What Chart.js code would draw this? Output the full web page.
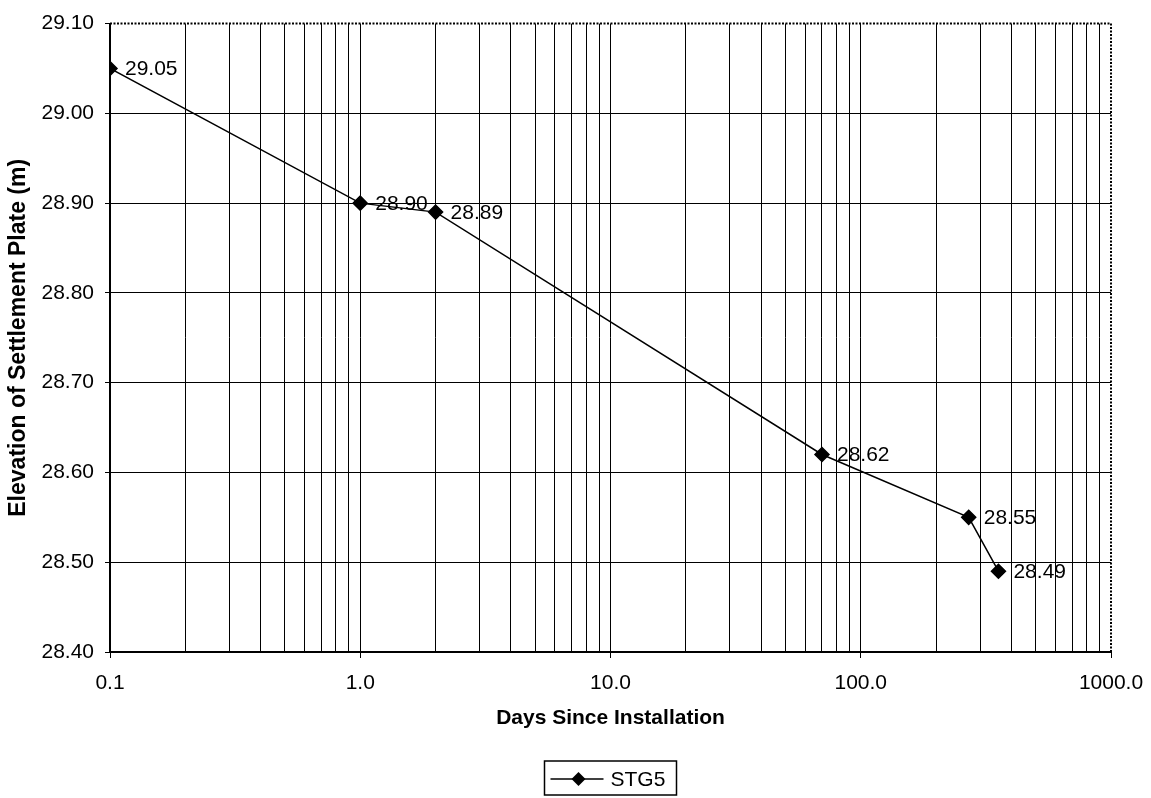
<!DOCTYPE html>
<html>
<head>
<meta charset="utf-8">
<title>STG5 settlement plate</title>
<script src="https://cdn.jsdelivr.net/npm/chart.js@4.4.1/dist/chart.umd.min.js"></script>
<style>
    html, body { margin: 0; padding: 0; background: #fff; }
    #wrap { width: 1151px; height: 798px; position: relative; }
</style>
</head>
<body>
<div id="wrap"><canvas id="chart"></canvas></div>
<script>
// Relevés de la plaque de tassement STG5
const seriesName = 'STG5';
const days = [0.1, 1.0, 2.0, 70, 270, 355];
const elevations = [29.05, 28.90, 28.89, 28.62, 28.55, 28.49];

// Graduations des axes
const xDecades = [0.1, 1, 10, 100, 1000];
const xTickLabels = ['0.1', '1.0', '10.0', '100.0', '1000.0'];
const yTickValues = [28.40, 28.50, 28.60, 28.70, 28.80, 28.90, 29.00, 29.10];
const yTickLabels = ['28.40', '28.50', '28.60', '28.70', '28.80', '28.90', '29.00', '29.10'];

const FONT = '"Liberation Sans", Arial, sans-serif';

// Etiquettes de valeur à droite de chaque point + cadre pointillé + légende encadrée
const extras = {
    id: 'extras',
    afterDatasetsDraw(chart) {
        const ctx = chart.ctx;
        const meta = chart.getDatasetMeta(0);
        ctx.save();
        ctx.fillStyle = '#000';
        ctx.font = '21px ' + FONT;
        ctx.textAlign = 'left';
        ctx.textBaseline = 'middle';
        meta.data.forEach((pt, i) => {
            ctx.fillText(elevations[i].toFixed(2), pt.x + 15, pt.y + 1);
        });
        ctx.restore();
    },
    afterDraw(chart) {
        const ctx = chart.ctx;
        const a = chart.chartArea;
        ctx.save();
        // bordure haute et droite de la zone de tracé
        ctx.strokeStyle = '#000';
        ctx.fillStyle = '#000';
        ctx.lineWidth = 2;
        ctx.setLineDash([2, 1.5]);
        ctx.beginPath();
        ctx.moveTo(a.left, a.top);
        ctx.lineTo(a.right, a.top);
        ctx.lineTo(a.right, a.bottom);
        ctx.stroke();
        ctx.setLineDash([]);

        // légende centrée sous l'axe
        const cx = (a.left + a.right) / 2;
        const bw = 132, bh = 34;
        const bx = cx - bw / 2, by = 761;
        ctx.lineWidth = 1.5;
        ctx.strokeRect(bx, by, bw, bh);
        const ly = by + bh / 2 + 1;
        ctx.beginPath();
        ctx.moveTo(bx + 6, ly);
        ctx.lineTo(bx + 59, ly);
        ctx.stroke();
        const dx = bx + 34;
        ctx.beginPath();
        ctx.moveTo(dx, ly - 7);
        ctx.lineTo(dx + 7, ly);
        ctx.lineTo(dx, ly + 7);
        ctx.lineTo(dx - 7, ly);
        ctx.closePath();
        ctx.fill();
        ctx.font = '21px ' + FONT;
        ctx.textBaseline = 'middle';
        ctx.fillText(seriesName, bx + 66, ly + 1);
        ctx.restore();
    }
};

new Chart(document.getElementById('chart'), {
    type: 'line',
    data: {
        datasets: [{
            label: seriesName,
            data: days.map((d, i) => ({ x: d, y: elevations[i] })),
            borderColor: '#000',
            borderWidth: 1.5,
            backgroundColor: '#000',
            pointStyle: 'rectRot',
            pointRadius: 7,
            pointHoverRadius: 7,
            pointBackgroundColor: '#000',
            pointBorderColor: '#000',
            tension: 0,
        }],
    },
    options: {
        responsive: true,
        maintainAspectRatio: false,
        animation: false,
        layout: { padding: { left: 0, right: 40, top: 18, bottom: 66 } },
        plugins: {
            legend: { display: false },
            tooltip: { enabled: false },
        },
        scales: {
            x: {
                type: 'logarithmic',
                min: 0.1,
                max: 1000,
                afterBuildTicks(scale) {
                    const ticks = [];
                    xDecades.forEach((d, k) => {
                        const last = k === xDecades.length - 1;
                        for (let m = 1; m <= (last ? 1 : 9); m++) {
                            ticks.push({ value: Number((d * m).toPrecision(6)), major: m === 1 });
                        }
                    });
                    scale.ticks = ticks;
                },
                afterFit(scale) {
                    scale.height = 80;
                    // les marges de la mise en page suffisent pour les libellés extrêmes
                    scale.paddingLeft = 0;
                    scale.paddingRight = 0;
                },
                ticks: {
                    autoSkip: false,
                    maxRotation: 0,
                    padding: 13,
                    color: '#000',
                    font: { family: FONT, size: 21 },
                    callback(value) {
                        const k = xDecades.indexOf(value);
                        return k >= 0 ? xTickLabels[k] : '';
                    },
                },
                grid: {
                    color: ctx => (ctx.tick && ctx.tick.value === 1000) ? 'rgba(0,0,0,0)' : '#000',
                    lineWidth: 1,
                    tickLength: 6,
                    tickColor: ctx => (ctx.tick && ctx.tick.major) ? '#000' : 'rgba(0,0,0,0)',
                },
                border: { color: '#000', width: 2 },
                title: {
                    display: true,
                    text: 'Days Since Installation',
                    color: '#000',
                    font: { family: FONT, size: 21, weight: 'bold' },
                    padding: { top: 4, bottom: 1 },
                },
            },
            y: {
                type: 'linear',
                min: 28.4,
                max: 29.1,
                afterBuildTicks(scale) {
                    scale.ticks = yTickValues.map(v => ({ value: v }));
                },
                afterFit(scale) { scale.width = 110; },
                ticks: {
                    padding: 11,
                    color: '#000',
                    font: { family: FONT, size: 21 },
                    callback(value, index) {
                        return yTickLabels[index];
                    },
                },
                grid: {
                    color: ctx => (ctx.tick && ctx.tick.value === 29.1) ? 'rgba(0,0,0,0)' : '#000',
                    lineWidth: 1,
                    tickLength: 5,
                    tickColor: '#000',
                },
                border: { color: '#000', width: 2 },
                title: {
                    display: true,
                    text: 'Elevation of Settlement Plate (m)',
                    color: '#000',
                    font: { family: FONT, size: 23, weight: 'bold' },
                    padding: { top: 5, bottom: 4 },
                },
            },
        },
    },
    plugins: [extras],
});
</script>
</body>
</html>
